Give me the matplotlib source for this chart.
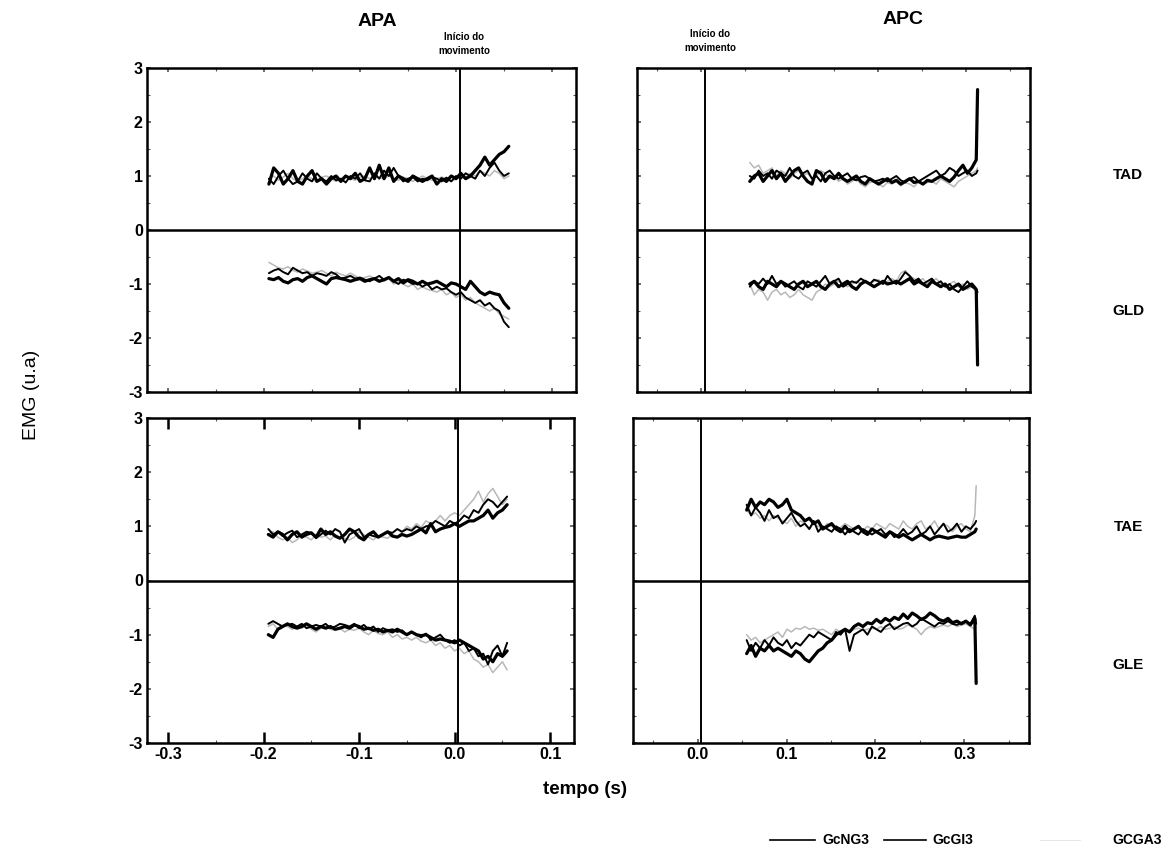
import numpy as np
import matplotlib
matplotlib.use("Agg")
import matplotlib.pyplot as plt
from matplotlib.lines import Line2D
from matplotlib.ticker import MultipleLocator

plt.rcParams['font.family'] = ['Liberation Sans', 'DejaVu Sans']

# ---------------- data ----------------
series_names = ["GcNG3", "GcGI3", "GCGA3"]
apa_t_range = (-0.195, 0.055)
apc_t_range = (0.055, 0.312)
apc_end_t = 0.3135          # time of the last (end-of-trial) sample in APC traces
muscles = ["TAD", "GLD", "TAE", "GLE"]

# APA (anticipatory) -- TAD
apa_tad_ng3 = [0.85, 1.15, 1.05, 0.85, 0.95, 1.1, 0.9, 0.85, 1.0, 1.1, 0.9, 0.95, 0.85, 0.95, 1.0, 0.9, 1.0,
               0.95, 1.05, 0.9, 0.95, 1.15, 0.95, 1.2, 0.95, 1.15, 0.9, 1.0, 0.95, 0.9, 1.0, 0.95, 0.9, 0.95,
               1.0, 0.85, 0.95, 0.9, 1.0, 0.95, 1.05, 0.95, 1.0, 1.1, 1.2, 1.35, 1.2, 1.3, 1.4, 1.45, 1.55]
apa_tad_gi3 = [0.95, 0.85, 1.0, 1.1, 0.95, 0.85, 0.9, 1.05, 0.95, 0.9, 1.05, 0.95, 0.9, 1.0, 0.92, 0.95, 0.88,
               1.0, 0.95, 1.05, 0.92, 0.9, 1.05, 0.95, 1.1, 1.0, 1.15, 1.0, 0.9, 0.95, 0.98, 0.9, 0.95, 0.92,
               0.98, 0.95, 0.9, 0.97, 0.9, 1.0, 0.95, 1.05, 1.0, 0.95, 1.1, 1.0, 1.15, 1.25, 1.1, 1.0, 1.05]
apa_tad_ga3 = [0.95, 1.0, 0.92, 0.98, 1.05, 0.95, 0.9, 0.95, 1.0, 0.95, 0.9, 0.98, 1.0, 0.95, 0.9, 0.95, 1.0,
               0.95, 0.92, 0.98, 1.0, 0.95, 1.0, 0.97, 0.95, 1.0, 0.95, 0.92, 0.98, 0.95, 0.9, 0.95, 1.0, 0.95,
               0.92, 0.95, 0.98, 0.95, 0.9, 0.95, 1.0, 0.98, 1.05, 1.0, 1.1, 1.05, 1.0, 1.1, 1.05, 0.95, 1.0]
# APA -- GLD
apa_gld_ng3 = [-0.9, -0.92, -0.88, -0.95, -0.98, -0.92, -0.9, -0.95, -0.88, -0.85, -0.9, -0.95, -1.0, -0.9,
               -0.88, -0.9, -0.92, -0.95, -0.92, -0.9, -0.95, -0.92, -0.9, -0.95, -0.92, -0.88, -0.95, -0.9,
               -0.98, -0.92, -0.95, -1.0, -0.95, -1.0, -0.98, -0.95, -1.0, -1.05, -0.98, -1.0, -1.05, -1.1,
               -0.95, -1.05, -1.15, -1.2, -1.15, -1.18, -1.2, -1.35, -1.45]
apa_gld_gi3 = [-0.8, -0.75, -0.72, -0.78, -0.82, -0.7, -0.75, -0.8, -0.78, -0.85, -0.8, -0.82, -0.85, -0.78,
               -0.82, -0.9, -0.88, -0.85, -0.9, -0.88, -0.92, -0.95, -0.9, -0.85, -0.92, -0.88, -0.95, -1.0,
               -0.92, -0.95, -1.0, -0.98, -1.05, -1.0, -1.1, -1.05, -1.1, -1.08, -1.15, -1.2, -1.15, -1.25,
               -1.3, -1.35, -1.3, -1.4, -1.35, -1.45, -1.5, -1.7, -1.8]
apa_gld_ga3 = [-0.6, -0.65, -0.7, -0.72, -0.68, -0.75, -0.78, -0.72, -0.76, -0.8, -0.78, -0.75, -0.8, -0.85,
               -0.78, -0.82, -0.85, -0.8, -0.85, -0.9, -0.88, -0.85, -0.9, -0.92, -0.95, -0.9, -1.0, -0.95,
               -1.0, -1.05, -1.0, -1.1, -1.05, -1.1, -1.12, -1.15, -1.1, -1.2, -1.15, -1.25, -1.2, -1.3,
               -1.25, -1.35, -1.4, -1.45, -1.5, -1.45, -1.55, -1.6, -1.65]
# APA -- TAE
apa_tae_ng3 = [0.85, 0.8, 0.9, 0.85, 0.75, 0.85, 0.9, 0.8, 0.85, 0.88, 0.8, 0.95, 0.85, 0.9, 0.82, 0.78, 0.85,
               0.95, 0.9, 0.8, 0.75, 0.85, 0.9, 0.8, 0.85, 0.9, 0.82, 0.8, 0.85, 0.82, 0.85, 0.9, 0.95, 0.88,
               1.05, 0.9, 0.95, 0.98, 1.0, 1.05, 1.0, 1.05, 1.1, 1.1, 1.15, 1.2, 1.3, 1.15, 1.25, 1.3, 1.4]
apa_tae_gi3 = [0.95, 0.85, 0.9, 0.82, 0.88, 0.92, 0.8, 0.85, 0.9, 0.88, 0.78, 0.85, 0.92, 0.85, 0.95, 0.9, 0.7,
               0.85, 0.9, 0.95, 0.8, 0.85, 0.82, 0.8, 0.85, 0.9, 0.88, 0.95, 0.9, 0.95, 0.92, 1.0, 0.95, 1.0,
               1.02, 1.1, 1.05, 1.0, 1.1, 1.05, 1.1, 1.2, 1.15, 1.3, 1.25, 1.4, 1.5, 1.45, 1.35, 1.45, 1.55]
apa_tae_ga3 = [0.85, 0.9, 0.8, 0.75, 0.8, 0.7, 0.75, 0.85, 0.8, 0.75, 0.85, 0.8, 0.82, 0.75, 0.85, 0.8, 0.78,
               0.75, 0.8, 0.9, 0.85, 0.8, 0.75, 0.82, 0.8, 0.78, 0.85, 0.8, 0.9, 1.0, 0.95, 1.05, 0.98, 1.1,
               1.05, 1.1, 1.2, 1.1, 1.2, 1.25, 1.2, 1.3, 1.4, 1.5, 1.65, 1.45, 1.6, 1.7, 1.55, 1.4, 1.5]
# APA -- GLE
apa_gle_ng3 = [-1.0, -1.05, -0.9, -0.85, -0.8, -0.85, -0.88, -0.85, -0.8, -0.85, -0.9, -0.85, -0.88, -0.85,
               -0.9, -0.88, -0.85, -0.88, -0.82, -0.85, -0.9, -0.88, -0.92, -0.9, -0.95, -0.92, -0.95, -0.9,
               -0.95, -1.0, -0.95, -1.0, -1.02, -1.0, -1.05, -1.1, -1.08, -1.1, -1.12, -1.15, -1.1, -1.15,
               -1.2, -1.25, -1.3, -1.45, -1.4, -1.5, -1.35, -1.4, -1.3]
apa_gle_gi3 = [-0.8, -0.75, -0.8, -0.85, -0.82, -0.8, -0.85, -0.8, -0.88, -0.85, -0.82, -0.85, -0.8, -0.88,
               -0.85, -0.8, -0.82, -0.85, -0.8, -0.88, -0.82, -0.9, -0.85, -0.95, -0.88, -0.92, -0.9, -0.95,
               -0.92, -1.0, -0.95, -1.0, -1.05, -0.98, -1.1, -1.05, -1.0, -1.1, -1.15, -1.1, -1.2, -1.15,
               -1.3, -1.25, -1.4, -1.35, -1.55, -1.3, -1.2, -1.4, -1.15]
apa_gle_ga3 = [-0.85, -0.8, -0.9, -0.82, -0.85, -0.9, -0.85, -0.88, -0.82, -0.9, -0.95, -0.88, -0.85, -0.9,
               -0.92, -0.88, -0.95, -0.9, -0.92, -0.88, -0.95, -1.0, -0.92, -0.98, -1.0, -0.95, -1.05, -1.0,
               -1.08, -1.05, -1.1, -1.05, -1.12, -1.15, -1.1, -1.2, -1.15, -1.25, -1.2, -1.3, -1.25, -1.35,
               -1.3, -1.45, -1.5, -1.6, -1.55, -1.7, -1.6, -1.5, -1.65]

# APC (compensatory) -- TAD  (last value = end-of-trial sample)
apc_tad_ng3 = [0.9, 1.0, 1.05, 0.9, 1.0, 1.1, 0.95, 1.05, 0.9, 1.0, 1.1, 1.15, 1.0, 0.9, 0.85, 1.1, 1.05, 0.9,
               1.0, 0.95, 1.05, 0.95, 0.9, 0.95, 1.0, 0.9, 0.85, 0.95, 0.9, 0.85, 0.9, 0.95, 0.88, 0.92, 0.85,
               0.9, 0.95, 0.88, 0.9, 0.85, 0.92, 0.9, 0.95, 1.0, 0.95, 0.9, 0.98, 1.1, 1.2, 1.05, 1.15, 1.3, 2.6]
apc_tad_gi3 = [1.0, 0.95, 1.1, 1.0, 1.05, 0.95, 1.1, 1.05, 1.0, 1.15, 1.0, 0.95, 1.05, 1.1, 0.95, 1.0, 0.9,
               1.05, 1.1, 1.0, 0.95, 1.0, 1.05, 0.95, 0.92, 0.98, 1.0, 0.95, 0.9, 0.92, 0.95, 0.9, 0.95, 1.0,
               0.92, 0.88, 0.95, 0.98, 0.9, 0.95, 1.0, 1.05, 1.1, 1.0, 1.05, 1.15, 1.1, 1.0, 1.05, 1.1, 1.0,
               1.05, 1.1]
apc_tad_ga3 = [1.25, 1.15, 1.2, 1.05, 1.1, 1.15, 1.0, 1.1, 1.05, 0.95, 1.05, 1.1, 1.0, 1.05, 0.95, 1.0, 1.1,
               1.05, 0.95, 1.0, 0.9, 0.95, 0.85, 0.9, 0.95, 0.85, 0.8, 0.88, 0.9, 0.85, 0.8, 0.88, 0.85, 0.9,
               0.82, 0.88, 0.85, 0.8, 0.9, 0.85, 0.88, 0.9, 0.85, 0.95, 0.9, 0.85, 0.8, 0.9, 0.95, 1.0, 1.05,
               1.1, 1.15]
# APC -- GLD
apc_gld_ng3 = [-1.0, -0.95, -1.05, -1.1, -0.95, -1.0, -1.05, -0.95, -1.0, -1.05, -1.1, -1.0, -0.95, -1.05,
               -1.0, -0.95, -1.05, -1.1, -1.0, -0.95, -1.05, -1.0, -0.95, -1.05, -1.1, -1.0, -0.95, -1.0,
               -1.05, -1.0, -0.95, -1.0, -0.98, -0.95, -1.0, -0.95, -0.9, -1.0, -0.95, -1.0, -1.05, -0.95,
               -1.0, -1.05, -1.0, -1.1, -1.05, -1.0, -1.1, -1.05, -1.0, -1.1, -2.5]
apc_gld_gi3 = [-1.05, -0.95, -1.0, -0.9, -1.0, -0.85, -1.0, -0.95, -1.05, -1.0, -0.95, -1.05, -1.1, -0.95,
               -1.0, -1.05, -0.95, -0.85, -1.0, -0.95, -0.9, -1.05, -1.0, -0.95, -0.98, -0.9, -0.95, -1.0,
               -0.92, -0.95, -1.0, -0.85, -0.95, -1.0, -0.9, -0.78, -0.85, -0.95, -0.9, -1.0, -0.95, -0.9,
               -1.0, -0.95, -1.05, -1.0, -1.1, -1.15, -1.05, -0.95, -1.05, -1.1, -1.15]
apc_gld_ga3 = [-1.0, -1.2, -1.1, -1.15, -1.3, -1.15, -1.1, -1.2, -1.15, -1.25, -1.2, -1.1, -1.2, -1.25, -1.3,
               -1.15, -1.1, -1.0, -1.05, -1.0, -0.95, -1.0, -1.05, -1.0, -0.95, -1.0, -0.98, -1.0, -0.95,
               -0.92, -1.0, -0.95, -0.9, -0.95, -0.8, -0.75, -0.85, -0.9, -0.95, -0.9, -1.0, -0.95, -0.9,
               -1.0, -1.05, -1.0, -0.95, -1.05, -1.0, -1.1, -1.05, -1.15, -1.2]
# APC -- TAE
apc_tae_ng3 = [1.3, 1.5, 1.35, 1.45, 1.4, 1.5, 1.45, 1.35, 1.4, 1.5, 1.3, 1.25, 1.2, 1.1, 1.15, 1.05, 1.1, 0.95,
               1.0, 1.05, 0.95, 0.9, 1.0, 0.9, 0.95, 1.0, 0.9, 0.85, 0.95, 0.9, 0.85, 0.8, 0.9, 0.85, 0.8, 0.85,
               0.8, 0.75, 0.8, 0.85, 0.8, 0.75, 0.8, 0.82, 0.8, 0.78, 0.8, 0.82, 0.8, 0.8, 0.85, 0.9, 0.95]
apc_tae_gi3 = [1.4, 1.2, 1.35, 1.25, 1.1, 1.3, 1.15, 1.2, 1.05, 1.15, 1.25, 1.1, 1.0, 1.05, 0.95, 1.1, 0.9, 1.0,
               0.95, 0.9, 1.0, 0.95, 0.85, 0.95, 0.9, 0.85, 0.95, 0.9, 0.85, 0.9, 0.95, 0.85, 0.9, 0.8, 0.85,
               0.95, 0.85, 0.9, 1.0, 0.85, 0.9, 1.0, 0.85, 0.95, 1.05, 0.9, 0.95, 1.05, 0.9, 1.0, 0.95, 1.05, 1.1]
apc_tae_ga3 = [1.3, 1.2, 1.25, 1.15, 1.2, 1.1, 1.2, 1.15, 1.1, 1.05, 1.15, 1.0, 1.1, 1.05, 0.95, 1.05, 1.0,
               0.95, 1.05, 1.0, 0.95, 0.98, 1.05, 1.0, 0.95, 1.0, 0.92, 1.0, 0.95, 1.05, 1.0, 0.95, 1.05, 1.0,
               0.95, 1.1, 1.0, 0.95, 1.05, 1.1, 0.95, 1.0, 1.1, 0.95, 1.05, 1.0, 0.9, 1.0, 1.05, 0.95, 0.9, 1.2,
               1.75]
# APC -- GLE
apc_gle_ng3 = [-1.35, -1.2, -1.4, -1.25, -1.3, -1.2, -1.3, -1.25, -1.3, -1.35, -1.4, -1.3, -1.35, -1.45, -1.5,
               -1.4, -1.3, -1.25, -1.15, -1.1, -1.0, -0.95, -0.9, -0.95, -0.85, -0.8, -0.85, -0.78, -0.8, -0.72,
               -0.78, -0.7, -0.75, -0.68, -0.72, -0.62, -0.7, -0.6, -0.65, -0.72, -0.68, -0.6, -0.65, -0.72,
               -0.75, -0.7, -0.78, -0.75, -0.8, -0.75, -0.82, -0.7, -1.9]
apc_gle_gi3 = [-1.1, -1.3, -1.15, -1.25, -1.1, -1.2, -1.05, -1.15, -1.2, -1.1, -1.25, -1.15, -1.2, -1.1, -1.0,
               -1.05, -0.95, -1.0, -1.05, -1.1, -0.95, -1.0, -0.9, -1.3, -1.0, -0.95, -0.9, -1.0, -0.85, -0.9,
               -0.95, -0.85, -0.8, -0.9, -0.85, -0.8, -0.78, -0.85, -0.8, -0.7, -0.75, -0.8, -0.85, -0.78,
               -0.8, -0.75, -0.8, -0.82, -0.78, -0.75, -0.8, -0.65, -0.8]
apc_gle_ga3 = [-1.0, -1.1, -1.05, -1.15, -1.1, -1.05, -1.0, -0.95, -1.05, -0.9, -0.95, -0.88, -0.9, -0.85,
               -0.9, -0.88, -0.92, -0.9, -0.95, -1.0, -0.9, -0.95, -0.92, -0.95, -0.9, -0.88, -0.92, -0.9,
               -0.88, -0.9, -0.85, -0.9, -0.88, -0.85, -0.9, -0.88, -0.82, -0.85, -0.9, -1.0, -0.9, -0.85,
               -0.88, -0.85, -0.82, -0.85, -0.8, -0.85, -0.82, -0.8, -0.85, -0.9, -0.85]

apa_xticks = [-0.3, -0.2, -0.1, 0.0, 0.1]
apa_xlabels = ["-0.3", "-0.2", "-0.1", "0.0", "0.1"]
apc_xticks = [0.0, 0.1, 0.2, 0.3]
apc_xlabels = ["0.0", "0.1", "0.2", "0.3"]
yticks = [-3, -2, -1, 0, 1, 2, 3]

# ---------------- style ----------------
styles = [dict(color="black", lw=2.3, zorder=4),
          dict(color="black", lw=1.4, zorder=3),
          dict(color="#b8b8b8", lw=1.1, zorder=2)]

W, H = 1170, 852
fig = plt.figure(figsize=(W / 100, H / 100), dpi=100)


def px_axes(x0, y0, x1, y1):
    return fig.add_axes([x0 / W, 1 - y1 / H, (x1 - x0) / W, (y1 - y0) / H])


ax_tl = px_axes(147, 68, 576, 392)
ax_tr = px_axes(637, 68, 1030, 392)
ax_bl = px_axes(147, 418, 574, 743)
ax_br = px_axes(633, 418, 1029, 743)

panels = [
    (ax_tl, [apa_tad_ng3, apa_tad_gi3, apa_tad_ga3], [apa_gld_ng3, apa_gld_gi3, apa_gld_ga3], "apa"),
    (ax_tr, [apc_tad_ng3, apc_tad_gi3, apc_tad_ga3], [apc_gld_ng3, apc_gld_gi3, apc_gld_ga3], "apc"),
    (ax_bl, [apa_tae_ng3, apa_tae_gi3, apa_tae_ga3], [apa_gle_ng3, apa_gle_gi3, apa_gle_ga3], "apa"),
    (ax_br, [apc_tae_ng3, apc_tae_gi3, apc_tae_ga3], [apc_gle_ng3, apc_gle_gi3, apc_gle_ga3], "apc"),
]


def time_axis(kind, n):
    if kind == "apa":
        return np.linspace(apa_t_range[0], apa_t_range[1], n)
    return np.append(np.linspace(apc_t_range[0], apc_t_range[1], n - 1), apc_end_t)


legend_lines = []
for i, (ax, upper, lower, kind) in enumerate(panels):
    for group in (upper, lower):
        for k, ys in enumerate(group):
            t = time_axis(kind, len(ys))
            ln, = ax.plot(t, ys, solid_joinstyle="round", solid_capstyle="round", **styles[k])
            if i == 0 and group is upper:
                legend_lines.append(ln)
    ax.axhline(0, color="black", lw=1.8, zorder=5)
    ax.axvline(0.004, color="black", lw=1.4, zorder=5)
    ax.set_ylim(-3, 3)
    if kind == "apa":
        ax.set_xlim(-0.322, 0.125)
    else:
        ax.set_xlim(-0.073, 0.373)
    for s in ax.spines.values():
        s.set_linewidth(1.8)
    ax.set_yticks(yticks)
    ax.yaxis.set_minor_locator(MultipleLocator(0.5))
    ax.xaxis.set_minor_locator(MultipleLocator(0.05))
    ax.tick_params(which="both", direction="in", top=True, right=True, color="#555555")
    ax.tick_params(which="major", length=3, width=1.2)
    ax.tick_params(which="minor", length=2, width=0.8)
    if kind == "apa":
        ax.set_xticks(apa_xticks)
        ax.set_xticklabels(apa_xlabels)
        ax.set_yticklabels([str(v) for v in yticks])
    else:
        ax.set_xticks(apc_xticks)
        ax.set_xticklabels(apc_xlabels)
        ax.tick_params(labelleft=False)
    if i < 2:
        ax.tick_params(labelbottom=False)
    ax.tick_params(labelsize=11.5, pad=3)
    for lab in ax.get_xticklabels() + ax.get_yticklabels():
        lab.set_fontweight("bold")

# thick inward ticks along the top of the lower-left panel
ax_bl.tick_params(axis="x", which="major", length=8, width=1.8, color="black")

# ---------------- texts ----------------
def ftext(x, y, s, **kw):
    fig.text(x / W, 1 - y / H, s, **kw)


ftext(377, 22, "APA", ha="center", va="center", fontsize=14, fontweight="bold")
ftext(903, 19, "APC", ha="center", va="center", fontsize=14, fontweight="bold")
ftext(464, 44, "Início do\nmovimento", ha="center", va="center", fontsize=7, fontweight="bold",
      linespacing=1.4)
ftext(710, 41, "Início do\nmovimento", ha="center", va="center", fontsize=7, fontweight="bold",
      linespacing=1.4)
for name, yy in zip(muscles, [175, 311, 527, 665]):
    ftext(1128, yy, name, ha="center", va="center", fontsize=11, fontweight="bold")
ftext(32, 395, "EMG (u.a)", ha="center", va="center", fontsize=14, rotation=90)
ftext(585, 789, "tempo (s)", ha="center", va="center", fontsize=13.5, fontweight="bold")

# ---------------- legend ----------------
leg_yp = 840
leg_y = 1 - leg_yp / H
leg_items = [(770, 815, 822), (884, 926, 932), (1040, 1080, 1112)]
for (x0, x1, xt), ln, name in zip(leg_items, legend_lines, series_names):
    fig.add_artist(Line2D([x0 / W, x1 / W], [leg_y, leg_y], color=ln.get_color(),
                          lw=1.2 if ln.get_color() == "black" else 0.6,
                          alpha=1.0 if ln.get_color() == "black" else 0.4,
                          transform=fig.transFigure))
    ftext(xt, leg_yp, name, ha="left", va="center", fontsize=10, fontweight="bold")

fig.savefig("out.png", dpi=100)
